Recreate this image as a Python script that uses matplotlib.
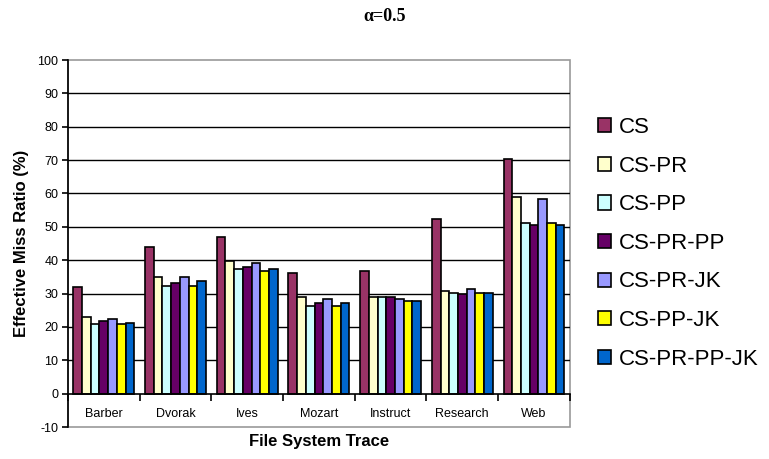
import numpy as np
import matplotlib.pyplot as plt
from matplotlib.patches import Rectangle

traces = ["Barber", "Dvorak", "Ives", "Mozart", "Instruct", "Research", "Web"]
series = ["CS", "CS-PR", "CS-PP", "CS-PR-PP", "CS-PR-JK", "CS-PP-JK", "CS-PR-PP-JK"]
colors = ["#993366", "#FFFFCC", "#CCFFFF", "#660066", "#9999FF", "#FFFF00", "#0066CC"]

cs = [32.0, 44.0, 47.0, 36.1, 36.7, 52.3, 70.4]
cs_pr = [22.9, 34.9, 39.9, 28.9, 28.9, 30.7, 58.9]
cs_pp = [20.9, 32.4, 37.3, 26.4, 28.9, 30.1, 51.1]
cs_pr_pp = [21.7, 33.1, 37.9, 27.1, 28.9, 29.9, 50.5]
cs_pr_jk = [22.3, 35.0, 39.1, 28.3, 28.3, 31.3, 58.2]
cs_pp_jk = [20.9, 32.4, 36.7, 26.4, 27.7, 30.1, 51.1]
cs_pr_pp_jk = [21.1, 33.7, 37.3, 27.1, 27.7, 30.1, 50.6]
values = [cs, cs_pr, cs_pp, cs_pr_pp, cs_pr_jk, cs_pp_jk, cs_pr_pp_jk]

yticks = list(range(-10, 101, 10))

plt.rcParams['font.family'] = ['Liberation Sans', 'DejaVu Sans']
plt.rcParams['axes.unicode_minus'] = False
fig = plt.figure(figsize=(7.69, 4.59), dpi=100)
ax = fig.add_axes([0.0884, 0.0697, 0.6526, 0.7995])

x = np.arange(len(traces))
n = len(series)
w = 0.85 / n
for i in range(n):
    ax.bar(x - 0.425 + w * (i + 0.5), values[i], w, color=colors[i],
           edgecolor="black", linewidth=1.2, label=series[i], zorder=3)

ax.set_xlim(-0.5, len(traces) - 0.5)
ax.set_ylim(-10, 100)

# horizontal gridlines
for t in yticks[2:-1]:
    ax.axhline(t, color="black", linewidth=1.0, zorder=1)

# frame
for s in ["top", "right", "bottom"]:
    ax.spines[s].set_visible(False)
ax.add_patch(Rectangle((0, 0), 1, 1, transform=ax.transAxes, fill=False,
                       edgecolor="#999999", linewidth=1.2, zorder=0, clip_on=False))
ax.spines["left"].set_color("black")
ax.spines["left"].set_linewidth(1.2)
ax.spines["left"].set_zorder(4)

ax.set_yticks(yticks)
ax.tick_params(axis="y", direction="out", length=4, width=1.2, labelsize=9, pad=3)

# x axis at zero, ticks between categories
ax.spines["bottom"].set_visible(True)
ax.spines["bottom"].set_position(("data", 0))
ax.spines["bottom"].set_color("black")
ax.spines["bottom"].set_linewidth(1.2)
ax.spines["bottom"].set_zorder(4)
ax.set_xticks(np.arange(len(traces) + 1) - 0.5)
ax.set_xticklabels([])
ax.set_xticks(x, minor=True)
ax.set_xticklabels(traces, minor=True)
ax.tick_params(axis="x", which="major", direction="out", length=5, width=1.2)
ax.tick_params(axis="x", which="minor", length=0, labelsize=9, pad=10)

ax.set_ylabel("Effective Miss Ratio (%)", fontsize=12, fontweight="bold", labelpad=6)
fig.text(0.4146, 0.039, "File System Trace", ha="center", va="center",
         fontsize=12, fontweight="bold")

fig.text(0.5, 0.965, "α=0.5", ha="center", va="center", fontsize=13,
         fontweight="bold", family=["Liberation Serif", "DejaVu Serif"])

fig.legend(loc="upper left", bbox_to_anchor=(0.766, 0.764), frameon=False,
           fontsize=16, handlelength=0.6, handleheight=0.6, handletextpad=0.35,
           labelspacing=0.79, borderaxespad=0)

fig.savefig("out.png", dpi=100)
